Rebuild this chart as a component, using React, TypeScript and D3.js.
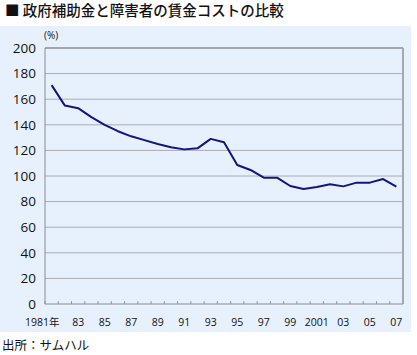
import React from "react";
import * as d3 from "d3";

const years = d3.range(1981, 2008);
const values = [171, 155, 153, 146, 140, 135, 131, 128, 125, 122.5, 120.8, 121.6, 129, 126.3, 108.6, 104.7, 98.7, 98.7, 92.2, 89.8, 91.4, 93.5, 91.9, 94.8, 94.8, 97.6, 91.7];
const yTicks = [0, 20, 40, 60, 80, 100, 120, 140, 160, 180, 200];
const xLabels: [number, string][] = [
  [1981, "1981年"], [1983, "83"], [1985, "85"], [1987, "87"], [1989, "89"], [1991, "91"],
  [1993, "93"], [1995, "95"], [1997, "97"], [1999, "99"], [2001, "2001"], [2003, "03"],
  [2005, "05"], [2007, "07"],
];
const title = "■ 政府補助金と障害者の賃金コストの比較";
const source = "出所：サムハル";

export default function App() {
  const W = 417, H = 355;
  const left = 45, right = 403, top = 48, bottom = 304;
  const x = d3.scaleBand<number>().domain(years).range([left, right]);
  const cx = (yr: number) => (x(yr) as number) + x.bandwidth() / 2;
  const y = d3.scaleLinear().domain([0, 200]).range([bottom, top]);
  const line = d3.line<number>().x((_, i) => cx(years[i])).y((d) => y(d));
  const font = "'Open Sans', 'Noto Sans CJK JP', sans-serif";
  const boundaries = years.map((yr) => x(yr) as number).concat([right]);
  return (
    <svg width={W} height={H} style={{ position: "absolute", left: 0, top: 0 }} fontFamily={font}>
      <rect x={0} y={0} width={W} height={H} fill="#fff" />
      <text x={5} y={16} fontSize={14.5} fill="#111" fontFamily="'Noto Sans CJK JP', sans-serif" fontWeight={500}>{title}</text>
      <rect x={0} y={26} width={411} height={306} fill="#e7f1fd" />
      {yTicks.filter((t) => t > 0 && t < 200).map((t) => (
        <line key={t} x1={left} x2={right} y1={y(t)} y2={y(t)} stroke="#a9acb3" strokeWidth={1} />
      ))}
      {boundaries.map((b, i) => (
        <line key={i} x1={b} x2={b} y1={bottom} y2={bottom - 3} stroke="#999" strokeWidth={1} />
      ))}
      <line x1={left} x2={right} y1={top} y2={top} stroke="#8a8c90" strokeWidth={1.5} />
      <line x1={right} x2={right} y1={top} y2={bottom} stroke="#a6a8ad" strokeWidth={2} />
      <line x1={left} x2={left} y1={top} y2={bottom} stroke="#8a8c90" strokeWidth={1} />
      <line x1={left} x2={right} y1={bottom} y2={bottom} stroke="#8a8c90" strokeWidth={1} />
      {yTicks.map((t) => (
        <text key={t} x={36} y={y(t)} dy="0.35em" textAnchor="end" fontSize={13.5} fill="#111">{t}</text>
      ))}
      <text x={44} y={39} fontSize={10} fill="#111">(%)</text>
      {xLabels.map(([yr, lab]) => (
        <text key={yr} x={yr === 1981 ? cx(yr) + 8 : cx(yr)} y={326} textAnchor={yr === 1981 ? "end" : "middle"} fontSize={10.5} fill="#111">{lab}</text>
      ))}
      <path d={line(values) as string} fill="none" stroke="#14147f" strokeWidth={2} strokeLinejoin="round" />
      <text x={2} y={350} fontSize={12.5} fill="#111" fontFamily="'Noto Sans CJK JP', sans-serif">{source}</text>
    </svg>
  );
}
